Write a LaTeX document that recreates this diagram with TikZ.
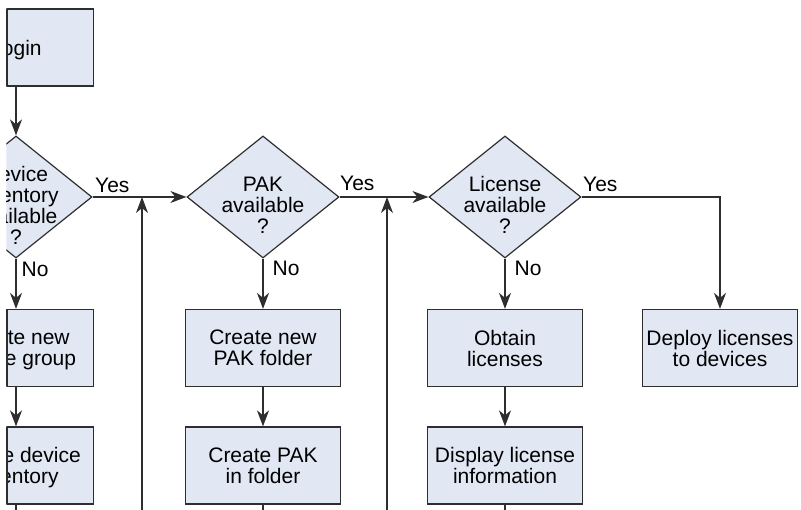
\documentclass[tikz,border=0pt]{standalone}
\usepackage{fontspec}
\setmainfont{Liberation Sans}
\usetikzlibrary{arrows.meta,shapes.geometric}
\definecolor{boxfill}{HTML}{E1E8F4}
\definecolor{linegray}{HTML}{2E2E2E}
\begin{document}
\begin{tikzpicture}[x=1pt,y=1pt,
  every node/.style={font=\fontsize{21}{21}\selectfont},
  procbox/.style={draw=linegray, line width=1.2pt, fill=boxfill, minimum width=155pt, minimum height=77pt, inner sep=0pt, align=center, text depth=0pt},
  decbox/.style={draw=linegray, line width=1.2pt, fill=boxfill, diamond, minimum width=152pt, minimum height=122pt, inner sep=0pt},
  dtext/.style={align=center, inner sep=0pt, text depth=0pt},
  flow/.style={draw=linegray, line width=1.2pt, -{Stealth[length=16pt,width=12pt,inset=5pt]}},
  plain/.style={draw=linegray, line width=1.2pt},
  lab/.style={inner sep=0pt, anchor=base west}
]
\useasboundingbox (0,0) rectangle (801,510);
\coordinate (bot) at (0,-2);
\begin{scope}
\clip (6.4,-2) rectangle (803,512);
% column 1
\node[procbox] (login) at (16,462.5) {Login};
\node[decbox] (d1) at (16,313) {};
\node[dtext] (d1t) at (16,305) {Device\\inventory\\available\\?};
\node[procbox] (b1a) at (16,162) {Create new\\device group};
\node[procbox] (b1b) at (16,44.5) {Create device\\inventory};
% column 2
\node[decbox] (d2) at (263,313) {};
\node[dtext] (d2t) at (263,305) {PAK\\available\\?};
\node[procbox] (b2a) at (263,162) {Create new\\PAK folder};
\node[procbox] (b2b) at (263,44.5) {Create PAK\\in folder};
% column 3
\node[decbox] (d3) at (505,313) {};
\node[dtext] (d3t) at (505,305) {License\\available\\?};
\node[procbox] (b3a) at (505,162) {Obtain\\licenses};
\node[procbox] (b3b) at (505,44.5) {Display license\\information};
% column 4
\node[procbox] (deploy) at (720,162) {Deploy licenses\\to devices};
% labels
\node[lab] (y1) at (95,317) {Yes};
\node[lab] (n1) at (21.5,233) {No};
\node[lab] (y2) at (340,319) {Yes};
\node[lab] (n2) at (272.5,234) {No};
\node[lab] (y3) at (583,318) {Yes};
\node[lab] (n3) at (514.5,234) {No};
% connectors
\draw[flow] (login) -- (d1);
\draw[flow] (d1) -- (b1a);
\draw[flow] (b1a) -- (b1b);
\draw[flow] (d2) -- (b2a);
\draw[flow] (b2a) -- (b2b);
\draw[flow] (d3) -- (b3a);
\draw[flow] (b3a) -- (b3b);
\draw[flow] (d1.east) -- (d2.west);
\draw[flow] (d2.east) -- (d3.west);
\draw[flow] (d3.east) -| (deploy.north);
\coordinate (u1) at (142,-2);
\coordinate (j1) at (142,313);
\coordinate (u2) at (387,-2);
\coordinate (j2) at (387,313);
\draw[flow] (u1) -- (j1);
\draw[flow] (u2) -- (j2);
\draw[plain] (b1b.south) -- (b1b.south |- bot);
\draw[plain] (b2b.south) -- (b2b.south |- bot);
\draw[plain] (b3b.south) -- (b3b.south |- bot);
\end{scope}
% visible left borders of the cut boxes
\draw[plain] (7,424) -- (7,501);
\draw[plain] (7,123.5) -- (7,200.5);
\draw[plain] (7,6) -- (7,83);
\end{tikzpicture}
\end{document}
